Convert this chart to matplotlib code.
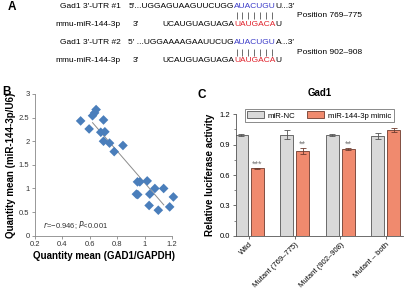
import numpy as np
import matplotlib
matplotlib.use("Agg")
from matplotlib import pyplot as plt

plt.rcParams['font.family'] = ['Liberation Sans', 'DejaVu Sans']

# Panel B data: GAD1/GAPDH vs miR-144-3p/U6
gad1 = [0.533, 0.595, 0.62, 0.635, 0.646, 0.70, 0.68, 0.71, 0.70, 0.744, 0.778, 0.842,
        0.948, 0.965, 1.019, 0.94, 0.95, 1.038, 1.075, 1.139, 1.033, 1.10, 1.183, 1.21]
mir = [2.43, 2.26, 2.54, 2.60, 2.67, 2.45, 2.19, 2.20, 2.00, 1.96, 1.78, 1.91,
       1.14, 1.14, 1.16, 0.88, 0.87, 0.88, 1.00, 1.00, 0.64, 0.54, 0.61, 0.82]

# Panel C data: relative luciferase activity
groups = ["Wild", "Mutant (769\u2013775)", "Mutant (902\u2013908)", "Mutant \u2013 both"]
nc_mean = [1.00, 1.00, 1.00, 0.99]
nc_err = [0.01, 0.04, 0.01, 0.03]
mimic_mean = [0.665, 0.838, 0.855, 1.045]
mimic_err = [0.008, 0.027, 0.010, 0.022]
stars = ["***", "**", "**", ""]

fig = plt.figure(figsize=(4.11, 3.0), dpi=100)

# ---- Panel A: sequence alignment (text in pixel coords)
axa = fig.add_axes([0, 0, 1, 1])
axa.set_xlim(0, 411)
axa.set_ylim(300, 0)
axa.axis('off')
fs = 6
blue = "#3b3bc8"
red = "#e0202a"
axa.text(8, 7, "A", fontsize=8.5, fontweight='bold', va='center')

rows = [
    (6, "Gad1 3\u2032-UTR #1", "5\u2032...UGGAGUAAGUUCUGG", "AUACUGU", "U...3\u2032", blue),
    (25, "mmu-miR-144-3p", "3\u2032", None, None, None),
    (43, "Gad1 3\u2032-UTR #2", "5\u2032 ...UGGAAAAGAAUUCUG", "AUACUGU", "A...3\u2032", blue),
    (60, "mmu-miR-144-3p", "3\u2032", None, None, None),
]
for y, name, left, mid, tail, col in rows:
    axa.text(121, y, name, fontsize=fs, ha='right', va='center')
    if mid is not None:
        axa.text(234, y, left, fontsize=fs, ha='right', va='center')
        t = axa.text(234, y, mid, fontsize=fs, ha='left', va='center', color=col)
        axa.annotate(tail, xy=(1, 0.5), xycoords=t, va='center', ha='left', fontsize=fs)
    else:
        axa.text(133, y, "3\u2032", fontsize=fs, ha='left', va='center')
        axa.text(234, y, "UCAUGUAGUAGA", fontsize=fs, ha='right', va='center')
        t = axa.text(234, y, "UAUGACA", fontsize=fs, ha='left', va='center', color=red)
        axa.annotate("U", xy=(1, 0.5), xycoords=t, va='center', ha='left', fontsize=fs)

for y, pos in [(15.5, "Position 769\u2013775"), (52, "Position 902\u2013908")]:
    axa.vlines(236.5 + np.arange(7) * 5.95, y - 3.5, y + 3.5, color='#555555', lw=0.6)
    axa.text(297, y, pos, fontsize=fs, ha='left', va='center')

axa.text(2, 92, "B", fontsize=8.5, fontweight='bold', va='center')
axa.text(197, 95, "C", fontsize=8.5, fontweight='bold', va='center')

# ---- Panel B: scatter with regression line
axb = fig.add_axes([0.0852, 0.2143, 0.3333, 0.4724])
axb.scatter(gad1, mir, marker='D', s=24, color='#4a7ebb', edgecolors='none', zorder=3,
            clip_on=False)
k, b = np.polyfit(gad1, mir, 1)
xs = np.array([0.62, 1.14])
axb.plot(xs, k * xs + b, color='#8c8c8c', lw=0.7, zorder=2)
axb.set_xlim(0.2, 1.2)
axb.set_ylim(0, 3)
axb.set_xticks([0.2, 0.4, 0.6, 0.8, 1.0, 1.2])
axb.set_xticklabels(["0.2", "0.4", "0.6", "0.8", "1", "1.2"])
axb.set_yticks([0, 0.5, 1, 1.5, 2, 2.5, 3])
axb.set_yticklabels(["0", "0.5", "1", "1.5", "2", "2.5", "3"])
for s in ['top', 'right']:
    axb.spines[s].set_visible(False)
for s in ['left', 'bottom']:
    axb.spines[s].set_color('#888888')
    axb.spines[s].set_linewidth(0.6)
axb.tick_params(labelsize=5.5, length=2.5, width=0.6, color='#888888', pad=1.5,
                labelcolor='#333333')
axb.set_xlabel("Quantity mean (GAD1/GAPDH)", fontsize=7, fontweight='bold', labelpad=2)
axb.set_ylabel("Quantity mean (miR-144-3p/U6)", fontsize=7, fontweight='bold', labelpad=2)
axb.text(0.26, 0.22, "$r$=\u22120.946; $P$<0.001", fontsize=5.5, ha='left', va='center',
         color='#333333')

# ---- Panel C: grouped bar chart
axc = fig.add_axes([0.5735, 0.2143, 0.4063, 0.4047])
x = np.arange(len(groups))
w = 0.29
off = 0.175
axc.bar(x - off, nc_mean, w, yerr=nc_err, color='#d9d9d9', edgecolor='#555555', lw=0.6,
        error_kw=dict(ecolor='#555555', elinewidth=0.6, capsize=2, capthick=0.6),
        label='miR-NC', zorder=2)
axc.bar(x + off, mimic_mean, w, yerr=mimic_err, color='#f08a6e', edgecolor='#6e3b2e', lw=0.6,
        error_kw=dict(ecolor='#6e3b2e', elinewidth=0.6, capsize=2, capthick=0.6),
        label='miR-144-3p mimic', zorder=2)
for i in range(len(groups)):
    if stars[i]:
        axc.text(x[i] + off, mimic_mean[i] + mimic_err[i] - 0.01, stars[i], fontsize=6.5,
                 ha='center', va='bottom', color='#777777')
axc.set_xlim(-0.3, 3.37)
axc.set_ylim(0, 1.2)
axc.set_yticks([0, 0.3, 0.6, 0.9, 1.2])
axc.set_yticklabels(["0.0", "0.3", "0.6", "0.9", "1.2"])
axc.set_yticks([0.15, 0.45, 0.75, 1.05], minor=True)
axc.set_xticks(x)
axc.set_xticklabels(groups, rotation=45, ha='right', rotation_mode='anchor', fontsize=5.3)
for s in ['top', 'right']:
    axc.spines[s].set_visible(False)
for s in ['left', 'bottom']:
    axc.spines[s].set_color('#555555')
    axc.spines[s].set_linewidth(0.6)
axc.tick_params(labelsize=5.5, length=2.5, width=0.6, color='#555555', pad=1.5)
axc.tick_params(which='minor', length=1.5, width=0.5, color='#555555')
axc.set_ylabel("Relative luciferase activity", fontsize=7, fontweight='bold', labelpad=3)
axc.set_title("Gad1", fontsize=7, fontweight='bold', pad=13)
leg = axc.legend(loc='upper center', bbox_to_anchor=(0.5, 1.075), ncol=2, fontsize=5.6,
                 frameon=True, fancybox=False, edgecolor='#555555', handlelength=2.2,
                 handleheight=1.0, columnspacing=1.5, borderpad=0.3, handletextpad=0.5)
leg.get_frame().set_linewidth(0.6)

fig.savefig("out.png", dpi=100)
